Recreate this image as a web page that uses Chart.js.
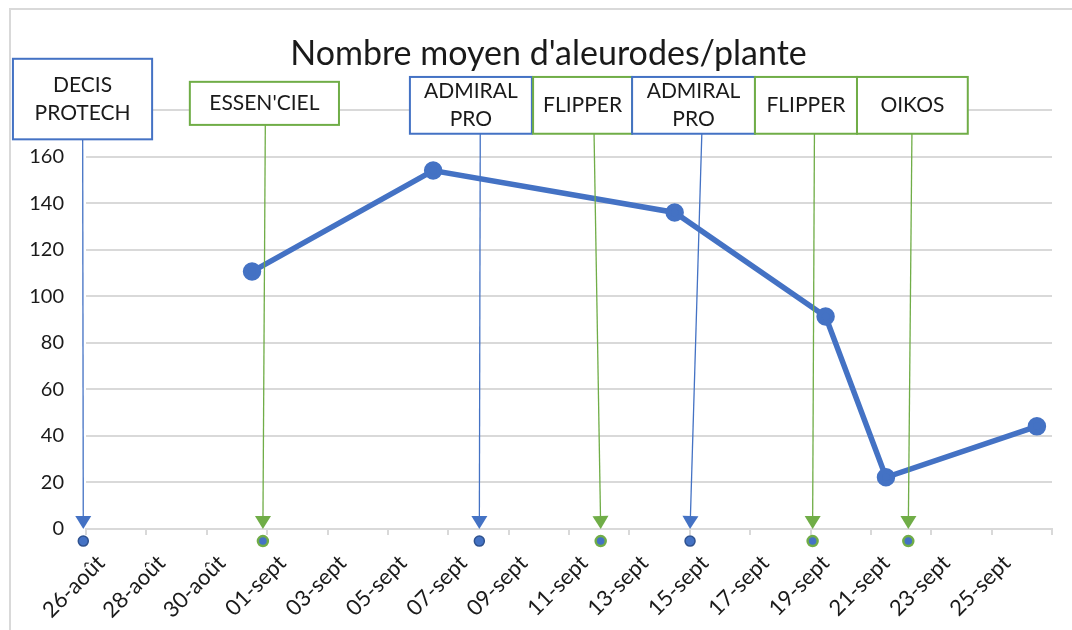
<!DOCTYPE html>
<html>
<head>
<meta charset="utf-8">
<script src="https://cdn.jsdelivr.net/npm/chart.js@4"></script>
<style>
  html, body { margin: 0; padding: 0; background: #fff; overflow: hidden; }
  #wrap { position: absolute; left: 0; top: 0; width: 1097px; height: 630px; }
</style>
</head>
<body>
<div id="wrap"><canvas id="graphAleurodes" width="1097" height="630"></canvas></div>
<script>
const titre = "Nombre moyen d'aleurodes/plante";
const dateDebut = "2023-08-26";
const etiquettesX = ["26-août", "28-août", "30-août", "01-sept", "03-sept", "05-sept", "07-sept", "09-sept",
  "11-sept", "13-sept", "15-sept", "17-sept", "19-sept", "21-sept", "23-sept", "25-sept"];
const ticksY = [0, 20, 40, 60, 80, 100, 120, 140, 160, 180];

const datesComptage = ["2023-08-31", "2023-09-06", "2023-09-14", "2023-09-19", "2023-09-21", "2023-09-26"];
const aleurodes = [110.6, 154, 136, 91.3, 22.2, 44.1];

const traitements = [["DECIS", "PROTECH"], ["ESSEN'CIEL"], ["ADMIRAL", "PRO"], ["FLIPPER"], ["ADMIRAL", "PRO"], ["FLIPPER"], ["OIKOS"]];
const typesTraitement = ["chimique", "bio", "chimique", "bio", "chimique", "bio", "bio"];
// jours depuis le 26-août (les flèches sont dessinées à la main, pas sur un jour entier)
const joursFlecheHaut = [-0.61, 5.44, 12.56, 16.33, 19.9, 23.63, 26.86];
const joursFlecheBas = [-0.59, 5.36, 12.53, 16.55, 19.51, 23.57, 26.74];

// mise en page des cadres (en jours / en valeurs de l'axe)
const cadres = [
  { g: -2.92, d: 1.69, h: 202, b: 167.4 },
  { g: 2.94, d: 7.88, h: 192.1, b: 173.6 },
  { g: 10.23, d: 14.27, h: 194.2, b: 169.8 },
  { g: 14.31, d: 17.59, h: 194.2, b: 169.8 },
  { g: 17.59, d: 21.66, h: 194.2, b: 169.8 },
  { g: 21.66, d: 25.04, h: 194.2, b: 169.8 },
  { g: 25.04, d: 28.71, h: 194.2, b: 169.8 },
];

const BLEU = "#4472C4";
const VERT = "#70AD47";
const GRIS = "#d9d9d9";
const POLICE = "Lato";

function jourDepuisDebut(d) {
  return Math.round((new Date(d) - new Date(dateDebut)) / 86400000);
}

const pluginTraitements = {
  id: "traitements",
  beforeDraw(chart) {
    const c = chart.ctx;
    c.save();
    c.fillStyle = "#fff";
    c.fillRect(0, 0, chart.width, chart.height);
    c.strokeStyle = GRIS;
    c.lineWidth = 2;
    c.beginPath();
    c.moveTo(10, chart.height);
    c.lineTo(10, 9);
    c.lineTo(chart.width, 9);
    c.stroke();
    c.font = "34px " + POLICE;
    c.fillStyle = "#1a1a1a";
    c.textAlign = "center";
    c.textBaseline = "middle";
    c.fillText(titre, chart.width / 2, 54);
    c.restore();
  },
  afterDatasetsDraw(chart) {
    const c = chart.ctx;
    const sx = chart.scales.x;
    const sy = chart.scales.y;
    c.save();
    traitements.forEach((lignes, i) => {
      const coul = typesTraitement[i] === "chimique" ? BLEU : VERT;
      const cadre = cadres[i];
      const x1 = sx.getPixelForValue(joursFlecheHaut[i]);
      const y1 = sy.getPixelForValue(cadre.b);
      const x2 = sx.getPixelForValue(joursFlecheBas[i]);
      const y2 = sy.getPixelForValue(0);

      // flèche
      const ang = Math.atan2(y2 - y1, x2 - x1);
      const lg = 13, demi = 8;
      c.strokeStyle = coul;
      c.lineWidth = 1.3;
      c.beginPath();
      c.moveTo(x1, y1);
      c.lineTo(x2 - Math.cos(ang) * lg, y2 - Math.sin(ang) * lg);
      c.stroke();
      c.fillStyle = coul;
      c.beginPath();
      c.moveTo(x2, y2);
      c.lineTo(x2 - Math.cos(ang) * lg - Math.sin(ang) * demi, y2 - Math.sin(ang) * lg + Math.cos(ang) * demi);
      c.lineTo(x2 - Math.cos(ang) * lg + Math.sin(ang) * demi, y2 - Math.sin(ang) * lg - Math.cos(ang) * demi);
      c.closePath();
      c.fill();

      // point sous l'axe
      const ym = sy.getPixelForValue(-5.2);
      c.beginPath();
      c.arc(x2, ym, 5, 0, Math.PI * 2);
      c.fillStyle = BLEU;
      c.fill();
      c.lineWidth = typesTraitement[i] === "chimique" ? 1.5 : 2.5;
      c.strokeStyle = typesTraitement[i] === "chimique" ? "#2F528F" : VERT;
      c.stroke();

      // cadre
      const gx = sx.getPixelForValue(cadre.g);
      const dx = sx.getPixelForValue(cadre.d);
      const hy = sy.getPixelForValue(cadre.h);
      const by = sy.getPixelForValue(cadre.b);
      c.fillStyle = "#fff";
      c.fillRect(gx, hy, dx - gx, by - hy);
      c.strokeStyle = coul;
      c.lineWidth = 2;
      c.strokeRect(gx, hy, dx - gx, by - hy);

      c.fillStyle = "#1a1a1a";
      c.font = "21px " + POLICE;
      c.textAlign = "center";
      c.textBaseline = "middle";
      const cy = (hy + by) / 2;
      const pas = 28;
      lignes.forEach((t, k) => {
        c.fillText(t, (gx + dx) / 2, cy + (k - (lignes.length - 1) / 2) * pas);
      });
    });
    c.restore();
  },
};

const ctx = document.getElementById("graphAleurodes").getContext("2d");
new Chart(ctx, {
  type: "line",
  data: {
    datasets: [
      {
        label: titre,
        data: datesComptage.map((d, i) => ({ x: jourDepuisDebut(d), y: aleurodes[i] })),
        borderColor: BLEU,
        backgroundColor: BLEU,
        borderWidth: 5.5,
        pointRadius: 6.5,
        pointHoverRadius: 6.5,
        tension: 0,
      },
    ],
  },
  options: {
    responsive: false,
    animation: false,
    layout: { padding: { top: 110, right: 45, left: 0, bottom: 0 } },
    plugins: {
      legend: { display: false },
      tooltip: { enabled: false },
      title: { display: false },
    },
    scales: {
      x: {
        type: "linear",
        min: -0.5,
        max: 31.5,
        afterBuildTicks: (s) => {
          const t = [];
          for (let k = 0; k <= 16; k++) {
            t.push({ value: 2 * k - 0.5 });
            if (k < 16) t.push({ value: 2 * k });
          }
          s.ticks = t;
        },
        afterFit: (s) => { s.height = 101; },
        grid: {
          drawOnChartArea: false,
          tickLength: 6,
          lineWidth: 2,
          tickColor: (c) => (c.tick && Number.isInteger(c.tick.value) ? "rgba(0,0,0,0)" : GRIS),
        },
        border: { color: GRIS, width: 2 },
        ticks: {
          autoSkip: false,
          minRotation: 45,
          maxRotation: 45,
          padding: 15,
          color: "#1a1a1a",
          font: { family: POLICE, size: 22 },
          callback: (v) => (Number.isInteger(v) ? etiquettesX[v / 2] : ""),
        },
      },
      y: {
        min: 0,
        max: 180,
        afterBuildTicks: (s) => { s.ticks = ticksY.map((v) => ({ value: v })); },
        afterFit: (s) => { s.width = 86; },
        grid: { color: GRIS, lineWidth: 2, drawTicks: false },
        border: { display: false },
        ticks: {
          padding: 22,
          color: "#1a1a1a",
          font: { family: POLICE, size: 20 },
        },
      },
    },
  },
  plugins: [pluginTraitements],
});
</script>
</body>
</html>
